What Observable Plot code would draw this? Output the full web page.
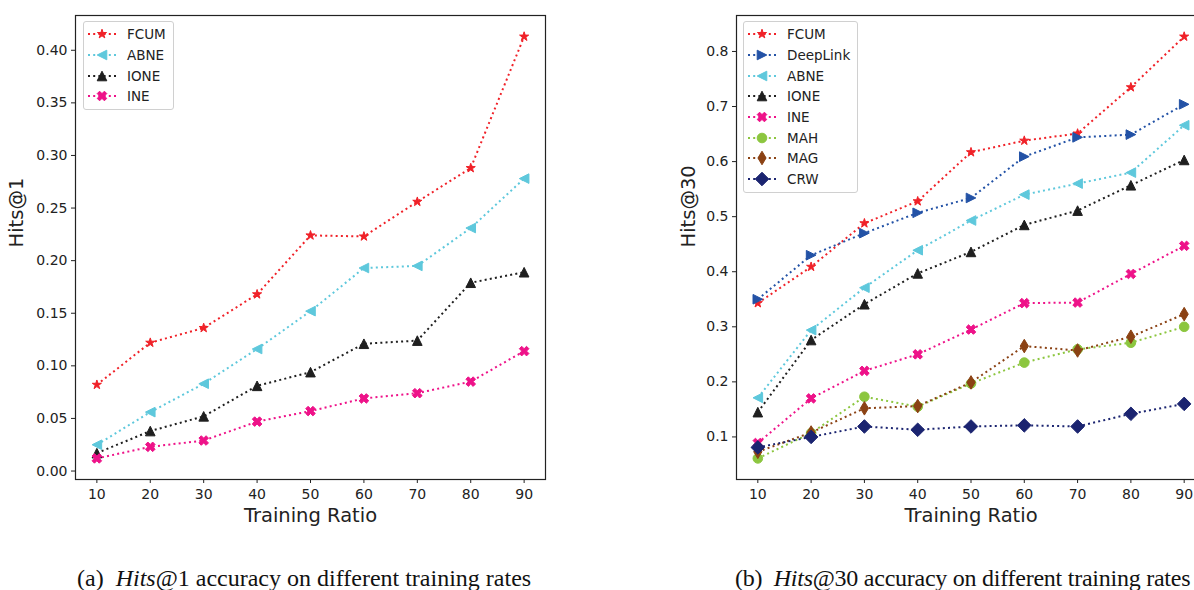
<!DOCTYPE html>
<html>
<head>
<meta charset="utf-8">
<script src="https://cdn.jsdelivr.net/npm/d3@7"></script>
<script src="https://cdn.jsdelivr.net/npm/@observablehq/plot@0.6"></script>
<style>
  html, body { margin: 0; padding: 0; background: #fff; overflow: hidden; }
  #wrap { position: relative; width: 1230px; height: 590px; }
  .panel { position: absolute; top: 0; }
  .legend { position: absolute; border: 1px solid #d0d0d0; border-radius: 3px; background: rgba(255,255,255,0.8);
            padding: 2px 7px 2px 4px; font-family: "DejaVu Sans", sans-serif; font-size: 13.5px; color: #222; }
  .legend .row { height: 20.7px; display: flex; align-items: center; white-space: nowrap; }
  .legend svg { margin-right: 11px; overflow: visible; }
  .caption { position: absolute; top: 565px; font-family: "Liberation Serif", "Times New Roman", serif; font-size: 24px;
             color: #111; white-space: nowrap; line-height: 26px; }
</style>
</head>
<body>
<div id="wrap"></div>
<script>
// ---------- data ----------
const ratios = [10, 20, 30, 40, 50, 60, 70, 80, 90];

// (a) Hits@1
const hits1_FCUM = [0.082, 0.122, 0.136, 0.168, 0.224, 0.223, 0.256, 0.288, 0.413];
const hits1_ABNE = [0.025, 0.056, 0.083, 0.116, 0.152, 0.193, 0.195, 0.231, 0.278];
const hits1_IONE = [0.017, 0.038, 0.052, 0.081, 0.094, 0.121, 0.124, 0.179, 0.189];
const hits1_INE  = [0.012, 0.023, 0.029, 0.047, 0.057, 0.069, 0.074, 0.085, 0.114];

// (b) Hits@30
const hits30_FCUM     = [0.343, 0.409, 0.488, 0.528, 0.617, 0.638, 0.651, 0.735, 0.827];
const hits30_DeepLink = [0.350, 0.430, 0.470, 0.507, 0.534, 0.609, 0.644, 0.649, 0.704];
const hits30_ABNE     = [0.171, 0.294, 0.371, 0.439, 0.493, 0.540, 0.560, 0.580, 0.666];
const hits30_IONE     = [0.145, 0.276, 0.341, 0.397, 0.436, 0.485, 0.511, 0.557, 0.603];
const hits30_INE      = [0.089, 0.170, 0.220, 0.250, 0.295, 0.343, 0.344, 0.396, 0.447];
const hits30_MAH      = [0.061, 0.107, 0.173, 0.155, 0.197, 0.235, 0.259, 0.271, 0.300];
const hits30_MAG      = [0.073, 0.108, 0.152, 0.156, 0.199, 0.265, 0.257, 0.282, 0.323];
const hits30_CRW      = [0.081, 0.100, 0.119, 0.113, 0.119, 0.121, 0.119, 0.142, 0.160];

const ticks1  = [0.00, 0.05, 0.10, 0.15, 0.20, 0.25, 0.30, 0.35, 0.40];
const ticks30 = [0.1, 0.2, 0.3, 0.4, 0.5, 0.6, 0.7, 0.8];

// ---------- marker shapes ----------
function poly(pts) {
  return { draw(ctx, size) {
    const h = Math.sqrt(size / Math.PI);
    ctx.moveTo(pts[0][0] * h, pts[0][1] * h);
    for (let i = 1; i < pts.length; i++) ctx.lineTo(pts[i][0] * h, pts[i][1] * h);
    ctx.closePath();
  }};
}
const starPts = [];
for (let i = 0; i < 10; i++) {
  const a = -Math.PI / 2 + i * Math.PI / 5, rr = i % 2 ? 0.382 : 1;
  starPts.push([rr * Math.cos(a), rr * Math.sin(a)]);
}
const symStar = poly(starPts);
const symTriUp = poly([[0, -1], [-1, 1], [1, 1]]);
const symTriLeft = poly([[-1, 0], [1, -1], [1, 1]]);
const symTriRight = poly([[1, 0], [-1, -1], [-1, 1]]);
const symX = poly([[-1,-2],[0,-1],[1,-2],[2,-1],[1,0],[2,1],[1,2],[0,1],[-1,2],[-2,1],[-1,0],[-2,-1]].map(([a,b]) => [a/2, b/2]));
const symCircle = { draw(ctx, size) { const h = Math.sqrt(size / Math.PI); ctx.moveTo(h, 0); ctx.arc(0, 0, h, 0, 2 * Math.PI); } };
const symDiamond = poly([[0, -1.414], [1.414, 0], [0, 1.414], [-1.414, 0]]);
const symThinDiamond = poly([[0, -1.414], [0.85, 0], [0, 1.414], [-0.85, 0]]);

const styles = {
  FCUM:     { color: "#f02128", sym: symStar },
  DeepLink: { color: "#2352a6", sym: symTriRight },
  ABNE:     { color: "#5ec8dc", sym: symTriLeft },
  IONE:     { color: "#1f1f1f", sym: symTriUp },
  INE:      { color: "#ee1289", sym: symX },
  MAH:      { color: "#8cc63f", sym: symCircle },
  MAG:      { color: "#8b4214", sym: symThinDiamond },
  CRW:      { color: "#1b2470", sym: symDiamond }
};

const panelA = [["FCUM", hits1_FCUM], ["ABNE", hits1_ABNE], ["IONE", hits1_IONE], ["INE", hits1_INE]];
const panelB = [["FCUM", hits30_FCUM], ["DeepLink", hits30_DeepLink], ["ABNE", hits30_ABNE], ["IONE", hits30_IONE],
                ["INE", hits30_INE], ["MAH", hits30_MAH], ["MAG", hits30_MAG], ["CRW", hits30_CRW]];

const R = 4.8;
const DASH = "2,3.2";

function makePanel(series, opts) {
  const all = series.flatMap(([name, vals]) => vals.map((v, i) => ({ name, x: ratios[i], y: v })));
  const ys = all.map(d => d.y);
  const lo = d3.min(ys), hi = d3.max(ys), pad = (hi - lo) * 0.05;
  const marks = [];
  for (const [name] of series) {
    const d = all.filter(e => e.name === name);
    const s = styles[name];
    marks.push(Plot.line(d, { x: "x", y: "y", stroke: s.color, strokeWidth: 2, strokeDasharray: DASH, strokeLinecap: "butt" }));
    marks.push(Plot.dot(d, { x: "x", y: "y", symbol: s.sym, r: R, fill: s.color, stroke: s.color, strokeWidth: 1 }));
  }
  const plot = Plot.plot({
    width: opts.width, height: 540,
    marginLeft: opts.marginLeft, marginRight: opts.marginRight, marginTop: 15, marginBottom: 61,
    style: { fontFamily: "DejaVu Sans, sans-serif", fontSize: "14px", color: "#222", background: "transparent", overflow: "visible" },
    x: { domain: [6, 94] },
    y: { domain: [lo - pad, hi + pad] },
    marks: [
      ...marks,
      Plot.frame({ stroke: "#222", strokeWidth: 1.2 }),
      Plot.axisX({ ticks: ratios, tickSize: 4, tickPadding: 6, label: null, fontSize: 14 }),
      Plot.axisY({ ticks: opts.ticks, tickFormat: opts.fmt, tickSize: 4, tickPadding: 4, label: null, fontSize: 14 }),
      Plot.text(["Training Ratio"], { text: d => d, frameAnchor: "bottom", dy: 42, fontSize: 19.5, fill: "#222" }),
      Plot.text([opts.ylabel], { text: d => d, frameAnchor: "left", dx: opts.ylabelDx, rotate: -90, fontSize: 19.5, fill: "#222" })
    ]
  });
  return plot;
}

function makeLegend(series, left, top) {
  const lg = document.createElement("div");
  lg.className = "legend";
  lg.style.left = left + "px";
  lg.style.top = top + "px";
  for (const [name] of series) {
    const s = styles[name];
    const row = document.createElement("div");
    row.className = "row";
    const path = d3.symbol().type(s.sym).size(Math.PI * R * R)();
    row.innerHTML = `<svg width="28" height="16" viewBox="0 0 28 16">
      <line x1="0" y1="8" x2="28" y2="8" stroke="${s.color}" stroke-width="2" stroke-dasharray="${DASH}"/>
      <path d="${path}" transform="translate(14,8)" fill="${s.color}" stroke="${s.color}" stroke-width="1"/>
      </svg><span>${name}</span>`;
    lg.appendChild(row);
  }
  return lg;
}

const wrap = document.getElementById("wrap");

const pA = document.createElement("div");
pA.className = "panel"; pA.style.left = "0px";
pA.appendChild(makePanel(panelA, { width: 580, marginLeft: 75, marginRight: 35, ticks: ticks1, fmt: d3.format(".2f"), ylabel: "Hits@1", ylabelDx: -59 }));
pA.appendChild(makeLegend(panelA, 83, 21));
wrap.appendChild(pA);

const pB = document.createElement("div");
pB.className = "panel"; pB.style.left = "660px";
pB.appendChild(makePanel(panelB, { width: 560, marginLeft: 76, marginRight: 15, ticks: ticks30, fmt: d3.format(".1f"), ylabel: "Hits@30", ylabelDx: -48 }));
pB.appendChild(makeLegend(panelB, 83, 21));
wrap.appendChild(pB);

const capA = document.createElement("div");
capA.className = "caption"; capA.style.left = "77px";
capA.innerHTML = "(a)&nbsp; <i>Hits</i>@1 accuracy on different training rates";
wrap.appendChild(capA);

const capB = document.createElement("div");
capB.className = "caption"; capB.style.left = "735px";
capB.style.letterSpacing = "-0.25px";
capB.innerHTML = "(b)&nbsp; <i>Hits</i>@30 accuracy on different training rates";
wrap.appendChild(capB);
</script>
</body>
</html>
